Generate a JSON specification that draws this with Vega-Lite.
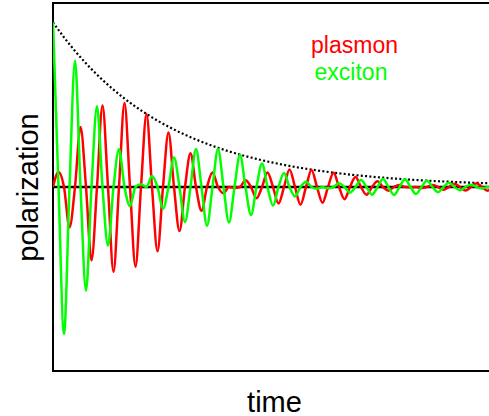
{
  "$schema": "https://vega.github.io/schema/vega-lite/v6.json",
  "width": 442,
  "height": 368,
  "autosize": {"type": "none"},
  "padding": {"left": 53, "top": 3, "right": 0, "bottom": 45},
  "background": "white",
  "config": {
    "view": {"stroke": "black", "strokeWidth": 2},
    "axis": {"domain": false, "ticks": false, "labels": false, "grid": false, "titleFont": "Liberation Sans", "titleFontSize": 29, "titleFontWeight": "normal", "titleColor": "black"},
    "axisX": {"titlePadding": 17},
    "axisY": {"titlePadding": 10}
  },
  "data": {"values": [
    {"t": 0, "plasmon": 0, "exciton": 1, "env": 1},
    {"t": 5.5, "plasmon": 0.0914, "exciton": 0, "env": 0.9533},
    {"t": 11, "plasmon": 0, "exciton": -0.8921, "env": 0.9088},
    {"t": 16.5, "plasmon": -0.2461, "exciton": 0, "env": 0.8663},
    {"t": 22, "plasmon": 0, "exciton": 0.7657, "env": 0.8259},
    {"t": 27.5, "plasmon": 0.3635, "exciton": 0, "env": 0.7873},
    {"t": 33, "plasmon": 0, "exciton": -0.6295, "env": 0.7505},
    {"t": 38.5, "plasmon": -0.4454, "exciton": 0, "env": 0.7155},
    {"t": 44, "plasmon": 0, "exciton": 0.4907, "env": 0.6821},
    {"t": 49.5, "plasmon": 0.4944, "exciton": 0, "env": 0.6502},
    {"t": 55, "plasmon": 0, "exciton": -0.3555, "env": 0.6199},
    {"t": 60.5, "plasmon": -0.5143, "exciton": 0, "env": 0.5909},
    {"t": 66, "plasmon": 0, "exciton": 0.2291, "env": 0.5633},
    {"t": 71.5, "plasmon": 0.5093, "exciton": 0, "env": 0.537},
    {"t": 77, "plasmon": 0, "exciton": -0.1152, "env": 0.5119},
    {"t": 82.5, "plasmon": -0.4838, "exciton": 0, "env": 0.488},
    {"t": 88, "plasmon": 0, "exciton": 0.0162, "env": 0.4652},
    {"t": 93.5, "plasmon": 0.4427, "exciton": 0, "env": 0.4435},
    {"t": 99, "plasmon": 0, "exciton": 0.0661, "env": 0.4228},
    {"t": 104.5, "plasmon": -0.3902, "exciton": 0, "env": 0.4031},
    {"t": 110, "plasmon": 0, "exciton": -0.1314, "env": 0.3842},
    {"t": 115.5, "plasmon": 0.3306, "exciton": 0, "env": 0.3663},
    {"t": 121, "plasmon": 0, "exciton": 0.1798, "env": 0.3492},
    {"t": 126.5, "plasmon": -0.2676, "exciton": 0, "env": 0.3329},
    {"t": 132, "plasmon": 0, "exciton": -0.2123, "env": 0.3173},
    {"t": 137.5, "plasmon": 0.2044, "exciton": 0, "env": 0.3025},
    {"t": 143, "plasmon": 0, "exciton": 0.2303, "env": 0.2884},
    {"t": 148.5, "plasmon": -0.1436, "exciton": 0, "env": 0.2749},
    {"t": 154, "plasmon": 0, "exciton": -0.2356, "env": 0.2621},
    {"t": 159.5, "plasmon": 0.0875, "exciton": 0, "env": 0.2498},
    {"t": 165, "plasmon": 0, "exciton": 0.2301, "env": 0.2382},
    {"t": 170.5, "plasmon": -0.0375, "exciton": 0, "env": 0.2271},
    {"t": 176, "plasmon": 0, "exciton": -0.2159, "env": 0.2164},
    {"t": 181.5, "plasmon": -0.0054, "exciton": 0, "env": 0.2063},
    {"t": 187, "plasmon": 0, "exciton": 0.1952, "env": 0.1967},
    {"t": 192.5, "plasmon": 0.0406, "exciton": 0, "env": 0.1875},
    {"t": 198, "plasmon": 0, "exciton": -0.17, "env": 0.1788},
    {"t": 203.5, "plasmon": -0.068, "exciton": 0, "env": 0.1704},
    {"t": 209, "plasmon": 0, "exciton": 0.1421, "env": 0.1624},
    {"t": 214.5, "plasmon": 0.0877, "exciton": 0, "env": 0.1549},
    {"t": 220, "plasmon": 0, "exciton": -0.1131, "env": 0.1476},
    {"t": 225.5, "plasmon": -0.1004, "exciton": 0, "env": 0.1407},
    {"t": 231, "plasmon": 0, "exciton": 0.0844, "env": 0.1342},
    {"t": 236.5, "plasmon": 0.1067, "exciton": 0, "env": 0.1279},
    {"t": 242, "plasmon": 0, "exciton": -0.0572, "env": 0.1219},
    {"t": 247.5, "plasmon": -0.1074, "exciton": 0, "env": 0.1162},
    {"t": 253, "plasmon": 0, "exciton": 0.0324, "env": 0.1108},
    {"t": 258.5, "plasmon": 0.1035, "exciton": 0, "env": 0.1056},
    {"t": 264, "plasmon": 0, "exciton": -0.0105, "env": 0.1007},
    {"t": 269.5, "plasmon": -0.096, "exciton": 0, "env": 0.096},
    {"t": 275, "plasmon": 0, "exciton": -0.008, "env": 0.0915},
    {"t": 280.5, "plasmon": 0.0858, "exciton": 0, "env": 0.0872},
    {"t": 286, "plasmon": 0, "exciton": 0.0229, "env": 0.0832},
    {"t": 291.5, "plasmon": -0.0738, "exciton": 0, "env": 0.0793},
    {"t": 297, "plasmon": 0, "exciton": -0.0343, "env": 0.0756},
    {"t": 302.5, "plasmon": 0.0608, "exciton": 0, "env": 0.0721},
    {"t": 308, "plasmon": 0, "exciton": 0.0423, "env": 0.0687},
    {"t": 313.5, "plasmon": -0.0475, "exciton": 0, "env": 0.0655},
    {"t": 319, "plasmon": 0, "exciton": -0.0471, "env": 0.0624},
    {"t": 324.5, "plasmon": 0.0346, "exciton": 0, "env": 0.0595},
    {"t": 330, "plasmon": 0, "exciton": 0.0491, "env": 0.0567},
    {"t": 335.5, "plasmon": -0.0224, "exciton": 0, "env": 0.0541},
    {"t": 341, "plasmon": 0, "exciton": -0.0487, "env": 0.0515},
    {"t": 346.5, "plasmon": 0.0115, "exciton": 0, "env": 0.0491},
    {"t": 352, "plasmon": 0, "exciton": 0.0464, "env": 0.0468},
    {"t": 357.5, "plasmon": -0.002, "exciton": 0, "env": 0.0447},
    {"t": 363, "plasmon": 0, "exciton": -0.0425, "env": 0.0426},
    {"t": 368.5, "plasmon": -0.006, "exciton": 0, "env": 0.0406},
    {"t": 374, "plasmon": 0, "exciton": 0.0375, "env": 0.0387},
    {"t": 379.5, "plasmon": 0.0123, "exciton": 0, "env": 0.0369},
    {"t": 385, "plasmon": 0, "exciton": -0.0319, "env": 0.0352},
    {"t": 390.5, "plasmon": -0.017, "exciton": 0, "env": 0.0335},
    {"t": 396, "plasmon": 0, "exciton": 0.0259, "env": 0.032},
    {"t": 401.5, "plasmon": 0.0202, "exciton": 0, "env": 0.0305},
    {"t": 407, "plasmon": 0, "exciton": -0.0198, "env": 0.029},
    {"t": 412.5, "plasmon": -0.022, "exciton": 0, "env": 0.0277},
    {"t": 418, "plasmon": 0, "exciton": 0.014, "env": 0.0264},
    {"t": 423.5, "plasmon": 0.0225, "exciton": 0, "env": 0.0252},
    {"t": 429, "plasmon": 0, "exciton": -0.0086, "env": 0.024},
    {"t": 434.5, "plasmon": -0.0221, "exciton": 0, "env": 0.0229},
    {"t": 440, "plasmon": 0, "exciton": 0.0038, "env": 0.0218},
    {"t": 445.5, "plasmon": 0.0207, "exciton": 0, "env": 0.0208}
  ]},
  "layer": [
    {
      "data": {"values": [{"zero": 0}]},
      "mark": {"type": "rule", "color": "black", "strokeWidth": 2.5},
      "encoding": {
        "y": {"field": "zero", "type": "quantitative", "title": "polarization", "scale": {"domain": [-1.117, 1.117], "nice": false, "zero": false}}
      }
    },
    {
      "mark": {"type": "line", "color": "black", "strokeDash": [2, 2.3], "strokeWidth": 2.2, "interpolate": "monotone", "clip": true},
      "encoding": {
        "x": {"field": "t", "type": "quantitative", "title": "time", "scale": {"domain": [0, 442], "nice": false, "zero": false}},
        "y": {"field": "env", "type": "quantitative", "title": "polarization", "scale": {"domain": [-1.117, 1.117], "nice": false, "zero": false}}
      }
    },
    {
      "mark": {"type": "line", "color": "#ff0000", "strokeWidth": 2.5, "interpolate": "monotone", "clip": true},
      "encoding": {
        "x": {"field": "t", "type": "quantitative", "title": "time", "scale": {"domain": [0, 442], "nice": false, "zero": false}},
        "y": {"field": "plasmon", "type": "quantitative", "title": "polarization", "scale": {"domain": [-1.117, 1.117], "nice": false, "zero": false}}
      }
    },
    {
      "mark": {"type": "line", "color": "#00ff00", "strokeWidth": 2.5, "interpolate": "monotone", "clip": true},
      "encoding": {
        "x": {"field": "t", "type": "quantitative", "title": "time", "scale": {"domain": [0, 442], "nice": false, "zero": false}},
        "y": {"field": "exciton", "type": "quantitative", "title": "polarization", "scale": {"domain": [-1.117, 1.117], "nice": false, "zero": false}}
      }
    },
    {
      "data": {"values": [
        {"name": "plasmon", "t": 301.5, "v": 0.815},
        {"name": "exciton", "t": 298, "v": 0.651}
      ]},
      "mark": {"type": "text", "align": "center", "baseline": "alphabetic", "font": "Liberation Sans", "fontSize": 23},
      "encoding": {
        "x": {"field": "t", "type": "quantitative", "title": "time", "scale": {"domain": [0, 442], "nice": false, "zero": false}},
        "y": {"field": "v", "type": "quantitative", "title": "polarization", "scale": {"domain": [-1.117, 1.117], "nice": false, "zero": false}},
        "text": {"field": "name"},
        "color": {"field": "name", "type": "nominal", "scale": {"domain": ["plasmon", "exciton"], "range": ["#ff0000", "#00ff00"]}, "legend": null}
      }
    }
  ]
}
